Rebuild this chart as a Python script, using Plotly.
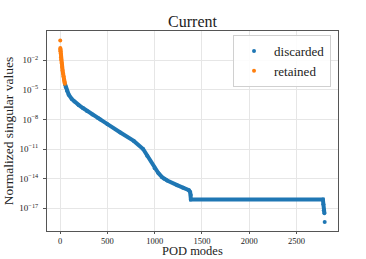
import numpy as np
import plotly.graph_objects as go

# ---- data (mode index, log10 of normalized singular value)
retained_modes = [0, 1, 2, 3, 5, 8, 10, 15, 20, 25, 30, 35, 40, 45, 49]
retained_log = [0.0, -0.78, -0.95, -1.1, -1.35, -1.7, -1.95, -2.3, -2.7, -3.05,
                -3.35, -3.65, -3.95, -4.2, -4.38]

discarded_modes = [50, 60, 71, 90, 124, 150, 194, 240, 283, 340, 400, 424, 500,
                   636, 778, 877, 920, 1000, 1040, 1078, 1100, 1132, 1237, 1300,
                   1361, 1375, 1382, 1383, 2780, 2785, 2790, 2796, 2799]
discarded_log = [-4.42, -4.75, -5.1, -5.5, -5.95, -6.2, -6.53, -6.85, -7.14, -7.5,
                 -7.85, -8.0, -8.48, -9.33, -10.18, -11.0, -11.68, -12.94, -13.45,
                 -13.85, -14.02, -14.18, -14.66, -14.92, -15.17, -15.35, -15.65,
                 -16.1, -16.1, -16.6, -17.2, -17.5, -18.4]

ytick_exps = [-17, -14, -11, -8, -5, -2]
xtick_vals = [0, 500, 1000, 1500, 2000, 2500]

BLUE = "#1f77b4"
ORANGE = "#ff7f0e"
FONT = "Liberation Serif"
TXT = "#222222"

ret_v = [10 ** v for v in retained_log]
dis_v = [10 ** v for v in discarded_log]

fig = go.Figure()
# discarded: continuous band (last isolated point excluded from the band)
fig.add_trace(go.Scatter(x=discarded_modes[:-1], y=dis_v[:-1], mode="lines",
                         line=dict(color=BLUE, width=4), showlegend=False,
                         legendgroup="d", hoverinfo="skip"))
fig.add_trace(go.Scatter(x=discarded_modes, y=dis_v, mode="markers",
                         marker=dict(color=BLUE, size=4), name="discarded",
                         legendgroup="d"))
# retained: first point isolated
fig.add_trace(go.Scatter(x=retained_modes[1:], y=ret_v[1:], mode="lines",
                         line=dict(color=ORANGE, width=4), showlegend=False,
                         legendgroup="r", hoverinfo="skip"))
fig.add_trace(go.Scatter(x=retained_modes, y=ret_v, mode="markers",
                         marker=dict(color=ORANGE, size=4), name="retained",
                         legendgroup="r"))

axis_common = dict(showline=True, linecolor="#555555", linewidth=1, mirror=True,
                   ticks="outside", tickcolor="#555555",
                   showgrid=True, gridcolor="#e6e6e6", gridwidth=1,
                   zeroline=False, automargin=False)

fig.update_xaxes(range=[-140, 2940], tickvals=xtick_vals,
                 ticktext=[str(v) for v in xtick_vals], ticklen=2,
                 tickfont=dict(family=FONT, size=8.5, color=TXT), **axis_common)
fig.update_yaxes(type="log", range=[-19.3, 0.95],
                 tickvals=[10.0 ** e for e in ytick_exps],
                 ticktext=["10<sup>\u2212%d</sup>" % (-e) for e in ytick_exps],
                 ticklabelstandoff=3, ticklen=3,
                 tickfont=dict(family=FONT, size=9, color=TXT), **axis_common)

W, H = 366, 259
fig.update_layout(
    width=W, height=H,
    margin=dict(l=47, r=28, t=31, b=28),
    paper_bgcolor="white", plot_bgcolor="white",
    font=dict(family=FONT, color=TXT),
    title=dict(text="Current", x=0.5, xref="paper", y=1 - 21.5 / H,
               yref="container", xanchor="center", yanchor="middle",
               font=dict(family=FONT, size=16, color=TXT)),
    legend=dict(x=0.976, y=0.98, xanchor="right", yanchor="top",
                bgcolor="rgba(255,255,255,0.85)", bordercolor="#d0d0d0",
                borderwidth=1, font=dict(family=FONT, size=13, color=TXT),
                tracegroupgap=0),
    showlegend=True,
    annotations=[
        dict(text="POD modes", x=0.5, y=-0.1415, xref="paper", yref="paper",
             xanchor="center", yanchor="bottom", showarrow=False, borderpad=0,
             font=dict(family=FONT, size=12.5, color=TXT)),
        dict(text="Normalized singular values", x=-0.133, y=0.5, xref="paper",
             yref="paper", xanchor="center", yanchor="middle", textangle=-90,
             showarrow=False, font=dict(family=FONT, size=13.5, color=TXT)),
    ],
)

# remove the browser's default 8px page margin so the figure sits at (0, 0)
fig.write_html("out.html", config={"displayModeBar": False},
               post_script="document.body.style.margin='0';document.body.style.padding='0';")
